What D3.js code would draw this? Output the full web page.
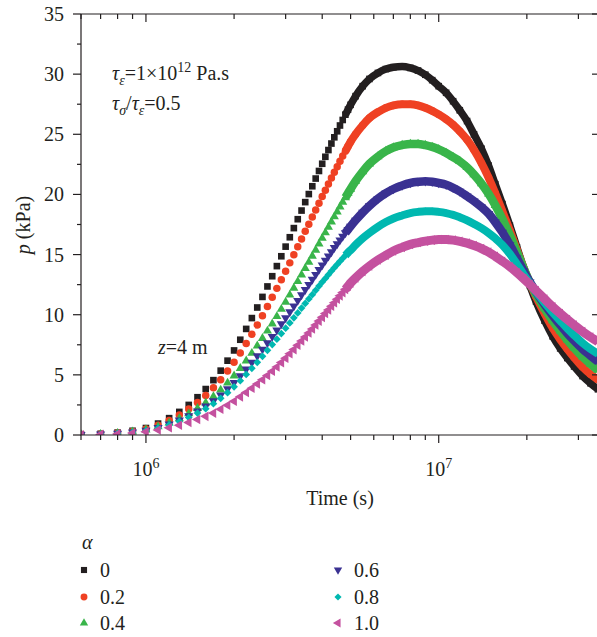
<!DOCTYPE html>
<html>
<head>
<meta charset="utf-8">
<script src="https://cdn.jsdelivr.net/npm/d3@7"></script>
<style>
  html, body { margin: 0; padding: 0; background: #fff; }
  svg text { font-family: "Liberation Serif", "Times New Roman", serif; fill: #231f20; }
</style>
</head>
<body>
<div id="chart"></div>
<script>
// time steps, in units of 1e5 s
var timeSteps = [6, 7, 8, 9, 10, 11, 12, 13, 14, 15, 16, 17, 18, 19, 20, 21, 22, 23, 24, 25, 26, 27,
    28, 29, 30, 31, 32, 33, 34, 35, 36, 37, 38, 39, 40, 41, 42, 43, 44, 45, 46, 47, 48, 49, 50,
    52, 55, 58, 62, 66, 70, 75, 80, 85, 90, 95, 100, 106, 112, 118, 125, 132, 140, 148, 156, 165,
    175, 185, 195, 205, 215, 230, 245, 260, 275, 290, 310, 330, 350];

// p (kPa) for each alpha
var pAlpha00 = [0.05, 0.1, 0.2, 0.35, 0.58, 0.95, 1.4, 1.92, 2.5, 3.14, 3.82, 4.56, 5.35, 6.18, 7.03, 7.92, 8.82, 9.72, 10.6, 11.48, 12.35, 13.2,
    14.04, 14.86, 15.66, 16.44, 17.2, 17.94, 18.66, 19.36, 20.03, 20.68, 21.32, 21.95, 22.55, 23.13, 23.69, 24.23, 24.75, 25.25, 25.73, 26.19, 26.63, 27.05, 27.45,
    28.17, 29.0, 29.6, 30.1, 30.42, 30.58, 30.63, 30.52, 30.3, 29.95, 29.5, 29.0, 28.45, 27.75, 27.0, 26.1, 25.0, 23.8, 22.4, 20.85, 19.2,
    17.4, 15.6, 13.9, 12.4, 11.1, 9.5, 8.2, 7.2, 6.4, 5.7, 4.9, 4.3, 3.8];
var pAlpha02 = [0.04, 0.09, 0.17, 0.3, 0.5, 0.82, 1.21, 1.66, 2.16, 2.71, 3.29, 3.92, 4.6, 5.32, 6.05, 6.82, 7.6, 8.38, 9.15, 9.92, 10.69, 11.45,
    12.19, 12.91, 13.62, 14.31, 14.99, 15.65, 16.3, 16.93, 17.53, 18.12, 18.7, 19.27, 19.82, 20.35, 20.86, 21.36, 21.84, 22.31, 22.75, 23.19, 23.6, 24.0, 24.38,
    25.0, 25.75, 26.35, 26.85, 27.2, 27.4, 27.5, 27.5, 27.4, 27.2, 26.95, 26.65, 26.25, 25.8, 25.25, 24.55, 23.7, 22.6, 21.4, 20.1, 18.6,
    17.0, 15.4, 13.9, 12.6, 11.5, 10.1, 8.9, 7.95, 7.15, 6.45, 5.65, 5.05, 4.6];
var pAlpha04 = [0.04, 0.07, 0.15, 0.26, 0.43, 0.69, 1.0, 1.37, 1.77, 2.22, 2.68, 3.19, 3.75, 4.33, 4.92, 5.54, 6.17, 6.8, 7.42, 8.04, 8.65, 9.24,
    9.86, 10.46, 11.05, 11.64, 12.21, 12.77, 13.32, 13.86, 14.37, 14.88, 15.38, 15.88, 16.36, 16.82, 17.28, 17.72, 18.15, 18.56, 18.97, 19.36, 19.74, 20.1, 20.45,
    21.1, 21.9, 22.55, 23.15, 23.6, 23.9, 24.1, 24.2, 24.2, 24.1, 23.95, 23.75, 23.45, 23.1, 22.75, 22.25, 21.65, 20.9, 20.05, 19.1, 17.95,
    16.6, 15.2, 13.85, 12.65, 11.7, 10.5, 9.5, 8.65, 7.9, 7.25, 6.5, 5.9, 5.4];
var pAlpha06 = [0.03, 0.07, 0.13, 0.23, 0.39, 0.62, 0.9, 1.23, 1.59, 1.98, 2.39, 2.83, 3.32, 3.83, 4.36, 4.91, 5.47, 6.03, 6.57, 7.12, 7.66, 8.18,
    8.71, 9.23, 9.73, 10.23, 10.71, 11.18, 11.64, 12.08, 12.51, 12.93, 13.34, 13.75, 14.13, 14.51, 14.87, 15.22, 15.57, 15.89, 16.21, 16.51, 16.8, 17.08, 17.35,
    17.85, 18.5, 19.05, 19.65, 20.1, 20.45, 20.75, 20.95, 21.05, 21.1, 21.05, 20.95, 20.8, 20.55, 20.25, 19.85, 19.45, 18.95, 18.4, 17.7, 16.85,
    15.8, 14.7, 13.65, 12.7, 11.9, 10.85, 9.95, 9.15, 8.45, 7.85, 7.15, 6.6, 6.1];
var pAlpha08 = [0.03, 0.06, 0.13, 0.22, 0.36, 0.58, 0.84, 1.13, 1.46, 1.82, 2.19, 2.6, 3.05, 3.52, 4.01, 4.51, 5.03, 5.54, 6.04, 6.54, 7.04, 7.52,
    7.97, 8.43, 8.88, 9.32, 9.74, 10.15, 10.55, 10.94, 11.31, 11.67, 12.03, 12.38, 12.71, 13.02, 13.33, 13.63, 13.91, 14.18, 14.44, 14.69, 14.93, 15.16, 15.37,
    15.8, 16.35, 16.8, 17.3, 17.7, 18.0, 18.25, 18.45, 18.55, 18.6, 18.6, 18.55, 18.45, 18.3, 18.1, 17.85, 17.55, 17.2, 16.8, 16.35, 15.8,
    15.05, 14.2, 13.35, 12.6, 11.9, 11.0, 10.2, 9.5, 8.85, 8.3, 7.65, 7.15, 6.75];
var pAlpha10 = [0.02, 0.05, 0.09, 0.16, 0.26, 0.42, 0.6, 0.81, 1.04, 1.29, 1.55, 1.82, 2.14, 2.47, 2.81, 3.17, 3.53, 3.89, 4.24, 4.59, 4.95, 5.3,
    5.65, 6.02, 6.39, 6.75, 7.1, 7.46, 7.81, 8.15, 8.48, 8.81, 9.14, 9.47, 9.78, 10.1, 10.4, 10.7, 11.0, 11.29, 11.57, 11.84, 12.11, 12.37, 12.63,
    13.05, 13.6, 14.05, 14.55, 14.95, 15.3, 15.6, 15.85, 16.0, 16.12, 16.2, 16.25, 16.25, 16.2, 16.1, 15.95, 15.75, 15.5, 15.2, 14.85, 14.45,
    14.0, 13.5, 13.0, 12.5, 12.0, 11.3, 10.65, 10.1, 9.6, 9.15, 8.6, 8.15, 7.75];

var alphaLabels = ["0", "0.2", "0.4", "0.6", "0.8", "1.0"];
var yTickValues = [0, 5, 10, 15, 20, 25, 30, 35];
var xLabelTicks = [6, 7]; // exponents of 10

var width = 597;
var height = 637;
var plotLeft = 81, plotRight = 598, plotTop = 14, plotBottom = 435;
var ink = "#231f20";

var x = d3.scaleLog().domain([6e5, 3.5e7]).range([plotLeft, plotRight]);
var y = d3.scaleLinear().domain([0, 35]).range([plotBottom, plotTop]);

var svg = d3.select("#chart")
    .append("svg")
    .attr("width", width)
    .attr("height", height);

svg.append("defs").append("clipPath")
    .attr("id", "plot-clip")
    .append("rect")
    .attr("x", plotLeft).attr("y", plotTop)
    .attr("width", plotRight - plotLeft).attr("height", plotBottom - plotTop);

// series styles
var series = [
    {values: pAlpha00, color: "#231f20", symbol: d3.symbolSquare, size: 44, rot: 0, band: 7.5},
    {values: pAlpha02, color: "#ef4123", symbol: d3.symbolCircle, size: 44, rot: 0, band: 8},
    {values: pAlpha04, color: "#39b54a", symbol: d3.symbolTriangle, size: 36, rot: 0, band: 8.5},
    {values: pAlpha06, color: "#3a3192", symbol: d3.symbolTriangle, size: 36, rot: 180, band: 8.5},
    {values: pAlpha08, color: "#00b8b0", symbol: d3.symbolSquare, size: 30, rot: 45, band: 8},
    {values: pAlpha10, color: "#c4519f", symbol: d3.symbolTriangle, size: 40, rot: -90, band: 9}
];

var plot = svg.append("g").attr("clip-path", "url(#plot-clip)");

var line = d3.line()
    .x(function(d) { return x(d.t); })
    .y(function(d) { return y(d.p); })
    .curve(d3.curveMonotoneX);

series.forEach(function(s) {
    var pts = timeSteps.map(function(t, i) { return {t: t * 1e5, p: s.values[i]}; });
    var g = plot.append("g");

    // dense part of the record: markers overlap into a solid band
    g.append("path")
        .datum(pts.filter(function(d) { return d.t >= 48e5; }))
        .attr("d", line)
        .attr("fill", "none")
        .attr("stroke", s.color)
        .attr("stroke-width", s.band)
        .attr("stroke-linejoin", "round");

    g.selectAll("path.mk")
        .data(pts)
        .enter()
        .append("path")
        .attr("class", "mk")
        .attr("d", d3.symbol().type(s.symbol).size(s.size))
        .attr("transform", function(d) {
            return "translate(" + x(d.t) + "," + y(d.p) + ") rotate(" + s.rot + ")";
        })
        .attr("fill", s.color);
});

// frame and ticks
var axes = svg.append("g").attr("stroke", ink).attr("stroke-width", 1.2).attr("fill", "none");
axes.append("path")
    .attr("d", "M" + plotLeft + "," + plotTop + "H" + plotRight +
        "M" + plotLeft + "," + plotTop + "V" + plotBottom + "H" + plotRight +
        "M" + plotRight + "," + plotTop + "V" + plotBottom);

var xTicks = x.ticks();
xTicks.forEach(function(t) {
    var major = Math.abs(Math.log10(t) - Math.round(Math.log10(t))) < 1e-9;
    var len = major ? 8 : 5;
    var px = x(t);
    axes.append("line").attr("x1", px).attr("x2", px).attr("y1", plotBottom).attr("y2", plotBottom + len);
    axes.append("line").attr("x1", px).attr("x2", px).attr("y1", plotTop).attr("y2", plotTop + len);
});

yTickValues.forEach(function(v) {
    axes.append("line").attr("x1", plotLeft - 8).attr("x2", plotLeft).attr("y1", y(v)).attr("y2", y(v));
    axes.append("line").attr("x1", plotRight - 6).attr("x2", plotRight).attr("y1", y(v)).attr("y2", y(v));
});
d3.range(2.5, 35, 5).forEach(function(v) {
    axes.append("line").attr("x1", plotLeft - 4).attr("x2", plotLeft).attr("y1", y(v)).attr("y2", y(v));
});

// tick labels
svg.selectAll("text.ytl")
    .data(yTickValues)
    .enter()
    .append("text")
    .attr("class", "ytl")
    .attr("x", 64)
    .attr("y", function(d) { return y(d) + 7; })
    .attr("text-anchor", "end")
    .attr("font-size", 20)
    .text(function(d) { return d; });

xLabelTicks.forEach(function(e) {
    var t = svg.append("text")
        .attr("x", x(Math.pow(10, e)))
        .attr("y", 476)
        .attr("text-anchor", "middle")
        .attr("font-size", 20);
    t.append("tspan").text("10");
    t.append("tspan").attr("font-size", 14).attr("dy", -8).text(e);
});

// rich text helper
function richText(px, py, parts, anchor) {
    var t = svg.append("text")
        .attr("x", px)
        .attr("y", py)
        .attr("font-size", 20)
        .attr("text-anchor", anchor || "start");
    parts.forEach(function(p) {
        var ts = t.append("tspan").text(p.t);
        if (p.i) ts.attr("font-style", "italic");
        if (p.s) ts.attr("font-size", p.s);
        if (p.dy) ts.attr("dy", p.dy);
    });
    return t;
}

// axis titles
svg.append("text")
    .attr("transform", "translate(30,225) rotate(-90)")
    .attr("text-anchor", "middle")
    .attr("font-size", 20)
    .call(function(t) {
        t.append("tspan").attr("font-style", "italic").text("p");
        t.append("tspan").text(" (kPa)");
    });

richText(340, 505, [{t: "Time (s)"}], "middle");

// annotations
richText(112, 80, [
    {t: "τ", i: true}, {t: "ε", i: true, s: 14, dy: 5},
    {t: "=1×10", dy: -5}, {t: "12", s: 14, dy: -8}, {t: " Pa.s", dy: 8}
]);
richText(112, 110, [
    {t: "τ", i: true}, {t: "σ", i: true, s: 14, dy: 5},
    {t: "/", dy: -5}, {t: "τ", i: true}, {t: "ε", i: true, s: 14, dy: 5},
    {t: "=0.5", dy: -5}
]);
richText(158, 354, [{t: "z", i: true}, {t: "=4 m"}]);

// legend
richText(82, 549, [{t: "α", i: true}]);
var legendPos = [[84, 570], [84, 597], [84, 623], [338, 570], [338, 597], [338, 623]];
series.forEach(function(s, i) {
    var p = legendPos[i];
    svg.append("path")
        .attr("d", d3.symbol().type(s.symbol).size(s.size * 0.85))
        .attr("transform", "translate(" + p[0] + "," + p[1] + ") rotate(" + s.rot + ")")
        .attr("fill", s.color);
    richText(p[0] + 16, p[1] + 7, [{t: alphaLabels[i]}]);
});
</script>
</body>
</html>
